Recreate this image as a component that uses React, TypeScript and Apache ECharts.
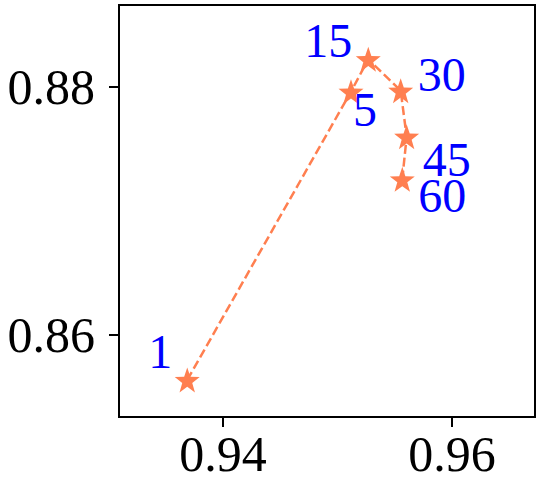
import React, { useEffect, useRef } from "react";
import * as echarts from "echarts";

const epochs = ["1", "5", "15", "30", "45", "60"];
const xValues = [0.93688, 0.95118, 0.95269, 0.95552, 0.95604, 0.95566];
const yValues = [0.85638, 0.8796, 0.88221, 0.87968, 0.87597, 0.87254];
const labelOffsets: [number, number][] = [
  [-27, -28],
  [14, 18],
  [-40, -19],
  [41, -16],
  [40, 23],
  [40, 16],
];
const xTicks = [0.94, 0.96];
const yTicks = [0.86, 0.88];

function starPath(): string {
  const pts: string[] = [];
  for (let i = 0; i < 10; i++) {
    const r = i % 2 === 0 ? 50 : 20;
    const a = -Math.PI / 2 + (i * Math.PI) / 5;
    pts.push(`${(50 + r * Math.cos(a)).toFixed(2)} ${(50 + r * Math.sin(a)).toFixed(2)}`);
  }
  return "path://M" + pts.join(" L") + " Z";
}

export default function App() {
  const ref = useRef<HTMLDivElement>(null);
  useEffect(() => {
    if (!ref.current) return;
    const chart = echarts.init(ref.current, undefined, { renderer: "svg" });
    const font = "'Liberation Serif', 'Times New Roman', Times, serif";
    const data = xValues.map((x, i) => ({
      value: [x, yValues[i]],
      label: {
        show: true,
        formatter: epochs[i],
        position: "inside",
        offset: labelOffsets[i],
        color: "#0000ff",
        fontFamily: font,
        fontSize: 48,
        align: "center",
        verticalAlign: "middle",
      },
    }));
    chart.setOption({
      animation: false,
      backgroundColor: "#ffffff",
      grid: {
        left: 119,
        right: 5,
        top: 5,
        bottom: 75,
        show: true,
        borderColor: "#000",
        borderWidth: 2,
        containLabel: false,
      },
      xAxis: {
        type: "value",
        min: 0.93092,
        max: 0.96725,
        splitLine: { show: false },
        axisLine: { show: true, onZero: false, lineStyle: { color: "#000", width: 2 } },
        axisTick: { show: true, length: 10, lineStyle: { color: "#000", width: 2 }, customValues: xTicks },
        axisLabel: {
          show: true,
          customValues: xTicks,
          formatter: (v: number) => v.toFixed(2),
          fontFamily: font,
          fontSize: 50,
          color: "#000",
          margin: 12,
        },
      },
      yAxis: {
        type: "value",
        min: 0.8534,
        max: 0.88658,
        splitLine: { show: false },
        axisLine: { show: true, onZero: false, lineStyle: { color: "#000", width: 2 } },
        axisTick: { show: true, length: 10, lineStyle: { color: "#000", width: 2 }, customValues: yTicks },
        axisLabel: {
          show: true,
          customValues: yTicks,
          formatter: (v: number) => v.toFixed(2),
          fontFamily: font,
          fontSize: 50,
          color: "#000",
          margin: 24,
        },
      },
      series: [
        {
          type: "line",
          data,
          symbol: starPath(),
          symbolSize: 25,
          itemStyle: { color: "#ff7f50" },
          lineStyle: { color: "#ff7f50", width: 2.5, type: [9, 4] },
          z: 3,
        },
      ],
    });
    return () => chart.dispose();
  }, []);
  return <div ref={ref} style={{ width: 540, height: 492, position: "absolute", left: 0, top: 0 }} />;
}
